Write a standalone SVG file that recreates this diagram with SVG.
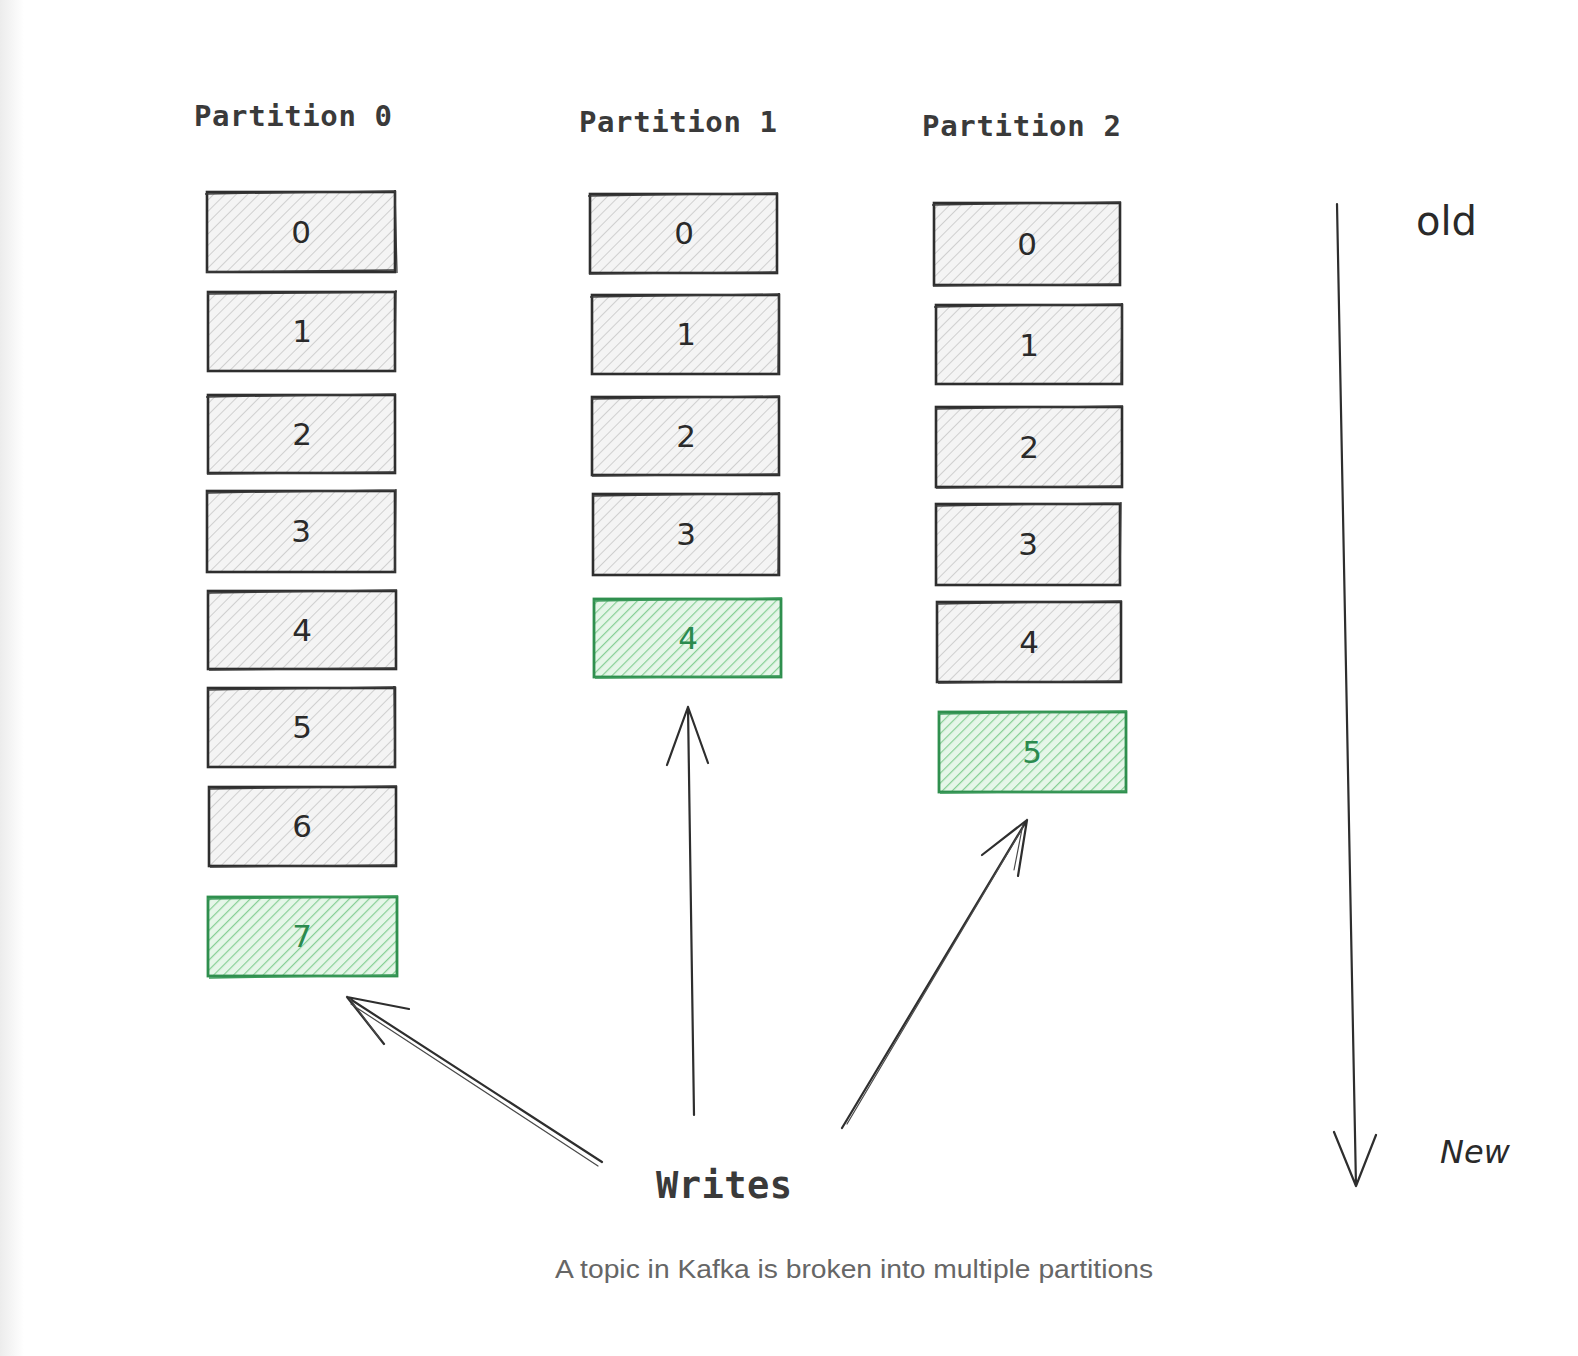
<svg xmlns="http://www.w3.org/2000/svg" width="1578" height="1356" viewBox="0 0 1578 1356">
<defs>
<linearGradient id="edge" x1="0" y1="0" x2="1" y2="0">
<stop offset="0" stop-color="#ececec"/><stop offset="1" stop-color="#ffffff"/>
</linearGradient>
<pattern id="hg" width="8" height="8" patternUnits="userSpaceOnUse" patternTransform="rotate(45)">
<rect width="8" height="8" fill="#f4f4f4"/>
<line x1="0" y1="0" x2="0" y2="8" stroke="#c6c6c6" stroke-width="1.6"/>
</pattern>
<pattern id="hgr" width="7" height="7" patternUnits="userSpaceOnUse" patternTransform="rotate(45)">
<rect width="7" height="7" fill="#e6f6e9"/>
<line x1="0" y1="0" x2="0" y2="7" stroke="#86cf94" stroke-width="2.4"/>
</pattern>
<style>
.box{fill:url(#hg);stroke:#2e2e2e;stroke-width:2.6}
.box2{fill:none;stroke:#3a3a3a;stroke-width:1.3}
.gbox{fill:url(#hgr);stroke:#2f8f4e;stroke-width:2.8}
.gbox2{fill:none;stroke:#3b9a5a;stroke-width:1.3}
.num{font-family:"DejaVu Sans",sans-serif;font-size:31px;fill:#2a2a2a;text-anchor:middle}
.gnum{font-family:"DejaVu Sans",sans-serif;font-size:31px;fill:#2b8a4e;text-anchor:middle}
.title{font-family:"DejaVu Sans Mono",monospace;font-weight:bold;font-size:29px;fill:#3a3a3a}
.hand{font-family:"DejaVu Sans",sans-serif;fill:#2a2a2a}
.ar{fill:none;stroke:#2e2e2e;stroke-width:2.2;stroke-linecap:round;stroke-linejoin:round}
.ar2{fill:none;stroke:#4a4a4a;stroke-width:1.2;stroke-linecap:round}
</style>
</defs>
<rect width="1578" height="1356" fill="#ffffff"/>
<rect width="24" height="1356" fill="url(#edge)"/>

<g id="p0-title"><text class="title" x="194" y="126" textLength="198">Partition 0</text></g>
<g id="p1-title"><text class="title" x="579" y="132" textLength="198">Partition 1</text></g>
<g id="p2-title"><text class="title" x="922" y="136" textLength="199">Partition 2</text></g>

<g id="p0-0"><rect class="box" x="207" y="192" width="188" height="80"/><path class="box2" d="M205 194 L396 191 M395 190 L397 273 M206 272 L394 270"/><text class="num" x="301" y="243">0</text></g>
<g id="p0-1"><rect class="box" x="208" y="292" width="187" height="79"/><path class="box2" d="M207 294 L397 292 M396 290 L395 372"/><text class="num" x="302" y="342">1</text></g>
<g id="p0-2"><rect class="box" x="208" y="395" width="187" height="78"/><path class="box2" d="M206 397 L396 394 M207 474 L396 472"/><text class="num" x="302" y="445">2</text></g>
<g id="p0-3"><rect class="box" x="207" y="491" width="188" height="81"/><path class="box2" d="M206 493 L396 490 M396 489 L395 573"/><text class="num" x="301" y="542">3</text></g>
<g id="p0-4"><rect class="box" x="208" y="591" width="188" height="78"/><path class="box2" d="M207 593 L397 590 M209 670 L396 668"/><text class="num" x="302" y="641">4</text></g>
<g id="p0-5"><rect class="box" x="208" y="688" width="187" height="79"/><path class="box2" d="M207 690 L396 687 M394 686 L395 768"/><text class="num" x="302" y="738">5</text></g>
<g id="p0-6"><rect class="box" x="209" y="787" width="187" height="79"/><path class="box2" d="M208 789 L397 786 M210 867 L396 865"/><text class="num" x="302" y="837">6</text></g>
<g id="p0-7"><rect class="gbox" x="208" y="897" width="189" height="79"/><path class="gbox2" d="M207 899 L398 896 M209 978 L397 975"/><text class="gnum" x="302" y="947">7</text></g>

<g id="p1-0"><rect class="box" x="590" y="194" width="187" height="79"/><path class="box2" d="M588 196 L778 193 M589 274 L777 272"/><text class="num" x="684" y="244">0</text></g>
<g id="p1-1"><rect class="box" x="592" y="295" width="187" height="79"/><path class="box2" d="M590 297 L780 294 M779 293 L778 375"/><text class="num" x="686" y="345">1</text></g>
<g id="p1-2"><rect class="box" x="592" y="397" width="187" height="78"/><path class="box2" d="M591 399 L780 396 M592 476 L779 474"/><text class="num" x="686" y="447">2</text></g>
<g id="p1-3"><rect class="box" x="593" y="494" width="186" height="81"/><path class="box2" d="M592 496 L780 493 M779 492 L778 576"/><text class="num" x="686" y="545">3</text></g>
<g id="p1-4"><rect class="gbox" x="594" y="599" width="187" height="78"/><path class="gbox2" d="M593 601 L782 598 M595 678 L781 676"/><text class="gnum" x="688" y="649">4</text></g>

<g id="p2-0"><rect class="box" x="934" y="203" width="186" height="82"/><path class="box2" d="M932 205 L1121 202 M933 286 L1120 284"/><text class="num" x="1027" y="255">0</text></g>
<g id="p2-1"><rect class="box" x="936" y="305" width="186" height="79"/><path class="box2" d="M934 307 L1123 304 M1122 303 L1121 385"/><text class="num" x="1029" y="356">1</text></g>
<g id="p2-2"><rect class="box" x="936" y="407" width="186" height="80"/><path class="box2" d="M935 409 L1123 406 M936 488 L1122 486"/><text class="num" x="1029" y="458">2</text></g>
<g id="p2-3"><rect class="box" x="936" y="504" width="184" height="81"/><path class="box2" d="M935 506 L1121 503 M1121 502 L1120 586"/><text class="num" x="1028" y="555">3</text></g>
<g id="p2-4"><rect class="box" x="937" y="602" width="184" height="80"/><path class="box2" d="M936 604 L1122 601 M938 683 L1121 681"/><text class="num" x="1029" y="653">4</text></g>
<g id="p2-5"><rect class="gbox" x="939" y="712" width="187" height="80"/><path class="gbox2" d="M938 714 L1127 711 M940 793 L1126 791"/><text class="gnum" x="1032" y="763">5</text></g>

<g id="writes"><text class="title" x="656" y="1198" textLength="136" style="font-size:37px">Writes</text></g>
<g id="old"><text class="hand" x="1416" y="235" style="font-size:40px">old</text></g>
<g id="new"><text class="hand" x="1440" y="1163" style="font-size:32px;font-style:italic">New</text></g>
<g id="caption"><text x="555" y="1278" textLength="598" lengthAdjust="spacingAndGlyphs" style="font-family:'Liberation Sans',Arial,sans-serif;font-size:26px;fill:#666666">A topic in Kafka is broken into multiple partitions</text></g>

<g id="connectors">
<path class="ar" d="M602 1162 L347 997 M347 997 L409 1009 M347 997 L384 1044"/>
<path class="ar2" d="M598 1166 L351 1004 M350 999 L380 1039"/>
<path class="ar" d="M694 1115 L688 707 M688 707 L667 765 M688 707 L708 763"/>
<path class="ar" d="M842 1128 L1027 820 M1027 820 L982 855 M1027 820 L1018 876"/>
<path class="ar2" d="M847 1124 L1022 829 M1023 824 L1014 870"/>
<path class="ar" d="M1337 204 L1356 1186 M1356 1186 L1334 1132 M1356 1186 L1376 1135"/>
</g>
</svg>
